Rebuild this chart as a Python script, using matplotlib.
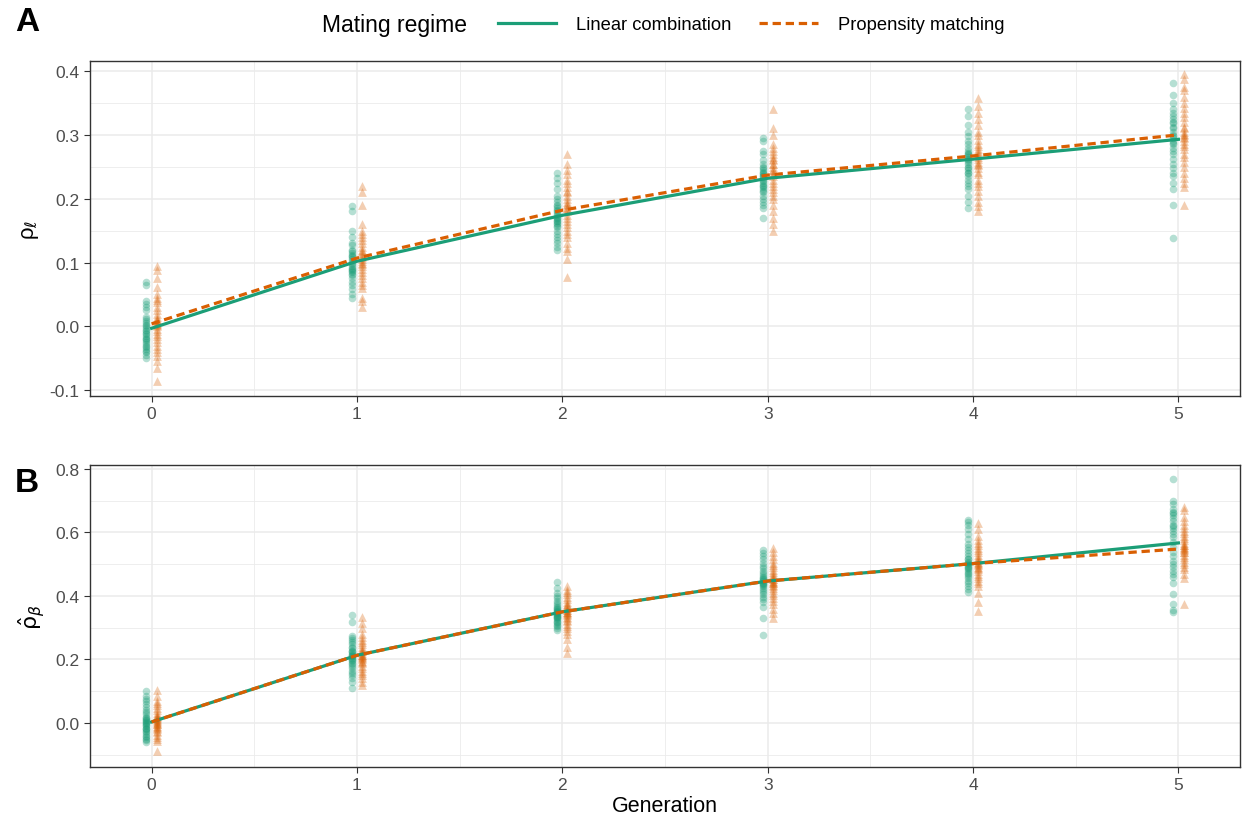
import numpy as np
import matplotlib
matplotlib.use("Agg")
import matplotlib.pyplot as plt
from matplotlib.lines import Line2D

plt.rcParams["font.family"] = ["Liberation Sans", "DejaVu Sans"]

GREEN = "#1B9E77"
ORANGE = "#D95F02"

generations = [0, 1, 2, 3, 4, 5]

# replicate estimates, one list per generation
rho_l_linear = [
    [0.070, 0.065, 0.040, 0.035, 0.030, 0.025, 0.012, 0.008, 0.002, 0.000, -0.002, -0.005, -0.008, -0.012, -0.015,
     -0.018, -0.020, -0.022, -0.025, -0.028, -0.030, -0.032, -0.035, -0.038, -0.040, -0.045, -0.050, 0.015, 0.005, -0.010],
    [0.188, 0.180, 0.150, 0.140, 0.130, 0.128, 0.120, 0.115, 0.112, 0.108, 0.105, 0.100, 0.098, 0.095, 0.092,
     0.090, 0.088, 0.085, 0.082, 0.080, 0.075, 0.070, 0.065, 0.058, 0.050, 0.045, 0.118, 0.102, 0.110, 0.086],
    [0.240, 0.232, 0.225, 0.215, 0.205, 0.200, 0.195, 0.190, 0.186, 0.182, 0.178, 0.175, 0.172, 0.168, 0.165,
     0.162, 0.158, 0.155, 0.150, 0.145, 0.140, 0.135, 0.130, 0.125, 0.120, 0.180, 0.170, 0.160, 0.188, 0.165],
    [0.295, 0.290, 0.275, 0.270, 0.260, 0.255, 0.250, 0.245, 0.240, 0.238, 0.235, 0.232, 0.228, 0.225, 0.222,
     0.218, 0.215, 0.210, 0.205, 0.200, 0.195, 0.190, 0.185, 0.170, 0.248, 0.230, 0.220, 0.242, 0.212, 0.236],
    [0.340, 0.330, 0.315, 0.305, 0.298, 0.290, 0.285, 0.280, 0.275, 0.270, 0.265, 0.262, 0.258, 0.255, 0.250,
     0.245, 0.240, 0.235, 0.230, 0.225, 0.220, 0.215, 0.205, 0.195, 0.185, 0.272, 0.260, 0.248, 0.268, 0.240],
    [0.382, 0.362, 0.350, 0.340, 0.335, 0.330, 0.325, 0.318, 0.312, 0.305, 0.300, 0.295, 0.290, 0.285, 0.280,
     0.275, 0.270, 0.262, 0.255, 0.248, 0.240, 0.235, 0.225, 0.215, 0.190, 0.138, 0.310, 0.298, 0.288, 0.320],
]
rho_l_propensity = [
    [0.095, 0.088, 0.075, 0.062, 0.050, 0.045, 0.042, 0.038, 0.030, 0.025, 0.020, 0.015, 0.012, 0.008, 0.005, 0.002,
     0.000, -0.004, -0.008, -0.012, -0.015, -0.020, -0.025, -0.030, -0.035, -0.040, -0.047, -0.055, -0.065, -0.085, 0.010, 0.003],
    [0.220, 0.210, 0.190, 0.160, 0.150, 0.145, 0.140, 0.135, 0.130, 0.125, 0.120, 0.115, 0.112, 0.108, 0.105,
     0.100, 0.098, 0.095, 0.090, 0.085, 0.080, 0.075, 0.070, 0.065, 0.060, 0.045, 0.040, 0.030, 0.118, 0.103],
    [0.270, 0.255, 0.245, 0.238, 0.230, 0.225, 0.218, 0.212, 0.205, 0.200, 0.195, 0.190, 0.185, 0.180, 0.175,
     0.170, 0.165, 0.160, 0.155, 0.150, 0.145, 0.140, 0.130, 0.122, 0.118, 0.105, 0.077, 0.210, 0.192, 0.185],
    [0.340, 0.310, 0.300, 0.285, 0.280, 0.275, 0.270, 0.265, 0.260, 0.255, 0.250, 0.245, 0.240, 0.235, 0.230,
     0.225, 0.220, 0.215, 0.210, 0.205, 0.200, 0.190, 0.180, 0.170, 0.160, 0.150, 0.255, 0.245, 0.238, 0.262],
    [0.358, 0.345, 0.335, 0.325, 0.315, 0.305, 0.300, 0.292, 0.285, 0.278, 0.272, 0.268, 0.262, 0.258, 0.252,
     0.248, 0.242, 0.238, 0.230, 0.225, 0.220, 0.212, 0.205, 0.195, 0.188, 0.180, 0.275, 0.265, 0.255, 0.282],
    [0.395, 0.388, 0.375, 0.370, 0.360, 0.350, 0.342, 0.335, 0.328, 0.320, 0.312, 0.305, 0.300, 0.295, 0.290,
     0.285, 0.278, 0.270, 0.265, 0.258, 0.250, 0.240, 0.232, 0.225, 0.218, 0.190, 0.302, 0.296, 0.282, 0.310],
]
rho_b_linear = [
    [0.102, 0.085, 0.075, 0.068, 0.060, 0.050, 0.042, 0.035, 0.028, 0.020, 0.015, 0.010, 0.005, 0.000, -0.005,
     -0.010, -0.015, -0.020, -0.025, -0.030, -0.035, -0.040, -0.045, -0.050, -0.055, -0.060, 0.002, -0.008, 0.012, -0.018],
    [0.340, 0.318, 0.275, 0.268, 0.260, 0.255, 0.248, 0.240, 0.235, 0.228, 0.222, 0.218, 0.214, 0.210, 0.205,
     0.200, 0.195, 0.190, 0.185, 0.180, 0.172, 0.165, 0.158, 0.150, 0.140, 0.128, 0.110, 0.212, 0.225, 0.198],
    [0.445, 0.425, 0.410, 0.400, 0.392, 0.385, 0.378, 0.372, 0.365, 0.360, 0.355, 0.350, 0.346, 0.342, 0.338,
     0.334, 0.330, 0.326, 0.322, 0.318, 0.314, 0.310, 0.305, 0.300, 0.292, 0.352, 0.348, 0.340, 0.362, 0.335],
    [0.545, 0.535, 0.525, 0.515, 0.505, 0.495, 0.488, 0.480, 0.472, 0.465, 0.458, 0.452, 0.446, 0.440, 0.435,
     0.430, 0.425, 0.420, 0.412, 0.405, 0.398, 0.390, 0.380, 0.365, 0.330, 0.278, 0.450, 0.442, 0.460, 0.438],
    [0.640, 0.632, 0.622, 0.610, 0.595, 0.580, 0.565, 0.555, 0.545, 0.535, 0.525, 0.515, 0.508, 0.500, 0.492,
     0.485, 0.478, 0.470, 0.462, 0.455, 0.448, 0.440, 0.432, 0.422, 0.412, 0.505, 0.495, 0.488, 0.518, 0.472],
    [0.770, 0.700, 0.690, 0.675, 0.665, 0.655, 0.645, 0.635, 0.625, 0.615, 0.605, 0.595, 0.585, 0.570, 0.555,
     0.540, 0.525, 0.510, 0.500, 0.490, 0.480, 0.470, 0.460, 0.440, 0.405, 0.375, 0.355, 0.350, 0.660, 0.620],
]
rho_b_propensity = [
    [0.105, 0.085, 0.070, 0.062, 0.055, 0.048, 0.040, 0.032, 0.025, 0.018, 0.012, 0.008, 0.003, 0.000, -0.005,
     -0.010, -0.015, -0.020, -0.025, -0.030, -0.038, -0.045, -0.050, -0.058, -0.090, 0.005, -0.002, 0.015, -0.012, 0.022],
    [0.335, 0.315, 0.300, 0.280, 0.270, 0.262, 0.255, 0.248, 0.240, 0.232, 0.225, 0.220, 0.215, 0.210, 0.205,
     0.200, 0.195, 0.188, 0.180, 0.172, 0.165, 0.158, 0.150, 0.140, 0.130, 0.120, 0.215, 0.208, 0.228, 0.192],
    [0.430, 0.420, 0.412, 0.405, 0.398, 0.390, 0.382, 0.375, 0.368, 0.362, 0.356, 0.350, 0.345, 0.340, 0.335,
     0.330, 0.325, 0.320, 0.312, 0.305, 0.298, 0.290, 0.280, 0.265, 0.240, 0.220, 0.355, 0.348, 0.372, 0.342],
    [0.550, 0.540, 0.525, 0.515, 0.505, 0.498, 0.490, 0.482, 0.475, 0.468, 0.460, 0.454, 0.448, 0.442, 0.436,
     0.430, 0.424, 0.418, 0.410, 0.402, 0.395, 0.385, 0.375, 0.360, 0.345, 0.330, 0.452, 0.445, 0.462, 0.440],
    [0.630, 0.610, 0.590, 0.575, 0.568, 0.560, 0.552, 0.545, 0.538, 0.530, 0.522, 0.515, 0.508, 0.500, 0.492,
     0.485, 0.478, 0.470, 0.462, 0.455, 0.448, 0.440, 0.430, 0.410, 0.380, 0.352, 0.505, 0.498, 0.512, 0.488],
    [0.680, 0.670, 0.650, 0.635, 0.625, 0.615, 0.605, 0.598, 0.590, 0.582, 0.575, 0.568, 0.560, 0.552, 0.545,
     0.538, 0.530, 0.522, 0.515, 0.508, 0.500, 0.492, 0.485, 0.470, 0.455, 0.375, 0.555, 0.548, 0.540, 0.562],
]

# per-generation means (summary lines)
mean_l_linear = [-0.003, 0.102, 0.174, 0.232, 0.262, 0.293]
mean_l_propensity = [0.004, 0.107, 0.182, 0.237, 0.267, 0.300]
mean_b_linear = [0.003, 0.213, 0.350, 0.447, 0.502, 0.567]
mean_b_propensity = [0.003, 0.213, 0.350, 0.447, 0.502, 0.548]

DODGE = 0.025
DASH = (0, (2.6, 1.5))

fig = plt.figure(figsize=(12.43, 8.2), dpi=100)
axA = fig.add_axes([0.0724, 0.5159, 0.9252, 0.4085])
axB = fig.add_axes([0.0724, 0.0634, 0.9252, 0.3683])


def draw_panel(ax, lin_pts, prop_pts, lin_mean, prop_mean):
    for g, vals in zip(generations, lin_pts):
        ax.scatter(np.full(len(vals), g - DODGE), vals, s=30, marker="o",
                   color=GREEN, alpha=0.32, linewidths=0, zorder=2)
    for g, vals in zip(generations, prop_pts):
        ax.scatter(np.full(len(vals), g + DODGE), vals, s=40, marker="^",
                   color=ORANGE, alpha=0.3, linewidths=0, zorder=2)
    ax.plot(generations, lin_mean, color=GREEN, lw=2.3, zorder=3)
    ax.plot(generations, prop_mean, color=ORANGE, lw=2.3, ls=DASH, zorder=4)
    ax.set_xticks(generations)
    ax.set_xticks(np.arange(0.5, 5.0, 1.0), minor=True)
    ax.set_xlim(-0.3, 5.3)
    ax.grid(True, which="major", color="#EBEBEB", lw=1.1, zorder=0)
    ax.grid(True, which="minor", color="#EBEBEB", lw=0.6, zorder=0)
    ax.set_axisbelow(True)
    ax.tick_params(which="major", length=4, width=0.8, color="#333333",
                   labelcolor="#4D4D4D", labelsize=12.5)
    ax.tick_params(which="minor", length=0)
    for sp in ax.spines.values():
        sp.set_color("#333333")
        sp.set_linewidth(1.0)


draw_panel(axA, rho_l_linear, rho_l_propensity, mean_l_linear, mean_l_propensity)
axA.set_yticks([-0.1, 0.0, 0.1, 0.2, 0.3, 0.4])
axA.set_yticklabels(["-0.1", "0.0", "0.1", "0.2", "0.3", "0.4"])
axA.set_yticks(np.arange(-0.05, 0.41, 0.1), minor=True)
axA.set_ylim(-0.109, 0.4157)
axA.set_ylabel(r"ρ$_\ell$", fontsize=16, labelpad=6)

draw_panel(axB, rho_b_linear, rho_b_propensity, mean_b_linear, mean_b_propensity)
axB.set_yticks([0.0, 0.2, 0.4, 0.6, 0.8])
axB.set_yticklabels(["0.0", "0.2", "0.4", "0.6", "0.8"])
axB.set_yticks(np.arange(-0.1, 0.81, 0.2), minor=True)
axB.set_ylim(-0.139, 0.8126)
axB.set_ylabel(r"$\hat{\mathrm{\rho}}_\beta$", fontsize=16, labelpad=6)
axB.set_xlabel("Generation", fontsize=15.5, labelpad=2)

fig.text(0.012, 0.972, "A", fontsize=24, fontweight="bold", va="center")
fig.text(0.012, 0.410, "B", fontsize=24, fontweight="bold", va="center")

# legend across the top
fig.text(0.259, 0.969, "Mating regime", fontsize=16.5, va="center", ha="left")
handles = [
    Line2D([0], [0], color=GREEN, lw=2.3),
    Line2D([0], [0], color=ORANGE, lw=2.3, ls=DASH),
]
fig.legend(handles, ["Linear combination", "Propensity matching"], ncol=2,
           loc="center left", bbox_to_anchor=(0.387, 0.969), frameon=False,
           fontsize=13.2, handlelength=3.2, handletextpad=1.1, columnspacing=1.5)

fig.savefig("out.png", dpi=100)
